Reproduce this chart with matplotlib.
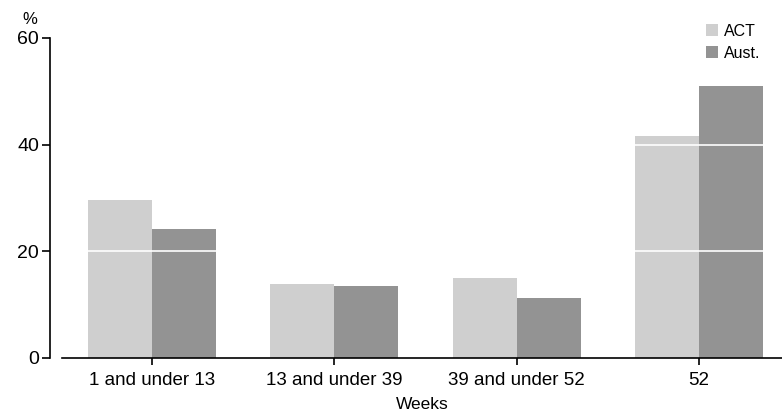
import matplotlib.pyplot as plt
import numpy as np

categories = ['1 and under 13', '13 and under 39', '39 and under 52', '52']
act = [29.6, 13.8, 15.0, 41.6]
aust = [24.2, 13.5, 11.2, 51.0]
yticks = [0, 20, 40, 60]

plt.rcParams['font.family'] = ['Liberation Sans', 'DejaVu Sans']

fig = plt.figure(figsize=(7.82, 4.19), dpi=100)
ax = fig.add_axes([62/782, 1 - 357.7/419, 720/782, (357.7 - 38)/419])

x = np.arange(len(categories))
w = 0.351
ax.bar(x - w/2, act, w, color='#cfcfcf', label='ACT', zorder=2)
ax.bar(x + w/2, aust, w, color='#939393', label='Aust.', zorder=2)

# white gridlines over the bars
for yv in [20, 40]:
    ax.axhline(yv, color='white', lw=1.2, zorder=3)

ax.set_ylim(0, 60)
ax.set_xlim(-0.494, 3.455)
ax.set_yticks(yticks)
ax.set_xticks(x)
ax.set_xticklabels(categories)

for s in ['top', 'right']:
    ax.spines[s].set_visible(False)
ax.spines['left'].set_position(('outward', 8.6))
ax.spines['left'].set_linewidth(1.2)
ax.spines['bottom'].set_linewidth(1.2)
ax.tick_params(axis='y', length=6, width=1.2, labelsize=14, pad=2)
ax.tick_params(axis='x', length=5, width=1.2, labelsize=13.5, pad=5)

ax.text(-0.045, 1.035, '%', transform=ax.transAxes, fontsize=12, ha='center', va='bottom')
ax.set_xlabel('Weeks', fontsize=12.5, labelpad=6)

ax.legend(loc='upper right', bbox_to_anchor=(0.99, 1.09), frameon=False, fontsize=11.5,
          handlelength=0.75, handleheight=0.75, handletextpad=0.35, labelspacing=0.45)

fig.savefig('out.png', dpi=100)
